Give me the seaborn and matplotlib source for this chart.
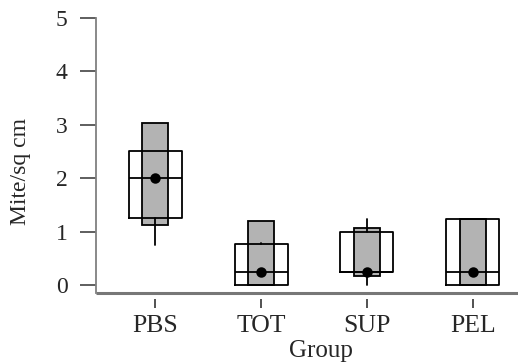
import numpy as np
import seaborn as sns
import matplotlib.pyplot as plt

groups = ["PBS", "TOT", "SUP", "PEL"]
# white boxes: quartiles, median, whiskers
q1 = [1.25, 0.0, 0.24, 0.0]
med = [2.0, 0.24, 0.24, 0.24]
q3 = [2.5, 0.76, 0.99, 1.24]
whis_lo = [0.75, 0.0, 0.0, 0.0]
whis_hi = [2.5, 0.78, 1.24, 1.24]
# gray bars: low / high
bar_lo = [1.12, 0.0, 0.17, 0.0]
bar_hi = [3.03, 1.2, 1.06, 1.24]
# dots
means = [2.0, 0.24, 0.24, 0.24]

sns.set_style("ticks")
plt.rcParams['font.family'] = ['Liberation Serif', 'DejaVu Serif']

fig = plt.figure(figsize=(5.18, 3.63), dpi=100)
ax = fig.add_axes([96 / 518, 70 / 363, 422 / 518, 275 / 363])

heights = [h - l for h, l in zip(bar_hi, bar_lo)]
sns.barplot(x=groups, y=heights, order=groups, bottom=bar_lo, width=0.25,
            color="#b3b3b3", edgecolor="black", linewidth=1.3, errorbar=None,
            saturation=1, ax=ax)

stats = []
for i, g in enumerate(groups):
    stats.append(dict(label=g, q1=q1[i], med=med[i], q3=q3[i],
                      whislo=whis_lo[i], whishi=whis_hi[i]))
lp = dict(color="black", linewidth=1.3)
ax.bxp(stats, positions=range(len(groups)), widths=0.5, showfliers=False,
       showcaps=False, manage_ticks=False, boxprops=lp, medianprops=lp,
       whiskerprops=lp)

sns.pointplot(x=groups, y=means, order=groups, color="black", linestyle="none",
              markers="o", markersize=5.5, errorbar=None, ax=ax, zorder=5)

ax.set_xlim(-0.557, 3.425)
ax.set_ylim(-0.15, 5)
ax.set_yticks([0, 1, 2, 3, 4, 5])
ax.set_xticks(range(len(groups)))
ax.set_xticklabels(groups)

ax.spines['top'].set_visible(False)
ax.spines['right'].set_visible(False)
ax.spines['left'].set_color("#808080")
ax.spines['left'].set_linewidth(1.3)
ax.spines['bottom'].set_position(('outward', 4))
ax.spines['bottom'].set_visible(False)
ax.plot([0, 1], [0, 0], transform=ax.transAxes, color="#777777", lw=2.2,
        clip_on=False, solid_capstyle='butt')

ax.tick_params(axis='y', direction='out', length=11.5, width=1.1, color="#333333",
               labelsize=17, pad=9)
ax.tick_params(axis='x', direction='out', length=6.5, width=1.1, color="#222222",
               labelsize=18.5, pad=5)

ax.set_xlabel("Group", fontsize=18)
ax.set_ylabel("Mite/sq cm", fontsize=17)
ax.xaxis.set_label_coords(0.533, -0.172)
ax.yaxis.set_label_coords(-0.154, 0.442)

fig.savefig("out.png", dpi=100)
